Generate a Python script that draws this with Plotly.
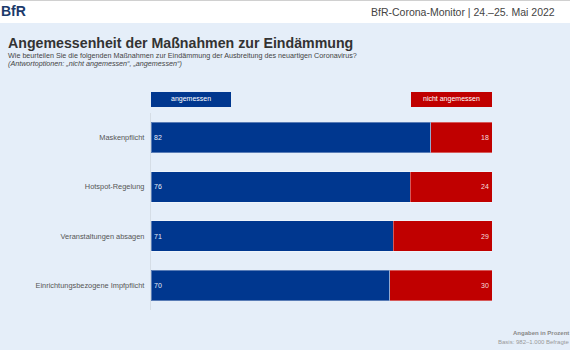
import plotly.graph_objects as go

categories = ["Maskenpflicht", "Hotspot-Regelung", "Veranstaltungen absagen", "Einrichtungsbezogene Impfpflicht"]
angemessen = [82, 76, 71, 70]
nicht_angemessen = [18, 24, 29, 30]

W, H = 570, 350
BLUE = "#00378f"
RED = "#c00000"
BG = "#e5eef9"
FONT = "Liberation Sans, Arial, sans-serif"

def py(px):
    return 1 - px / H

def px_(x):
    return x / W

fig = go.Figure()
fig.add_trace(go.Bar(
    y=categories, x=angemessen, orientation="h", name="angemessen",
    marker=dict(color=BLUE, line=dict(color="rgba(255,255,255,0.35)", width=1)),
    text=[str(v) for v in angemessen], textposition="inside", insidetextanchor="start",
    textfont=dict(color="#e8eef8", size=7, family=FONT), width=0.62, hoverinfo="skip",
))
fig.add_trace(go.Bar(
    y=categories, x=nicht_angemessen, orientation="h", name="nicht angemessen",
    marker=dict(color=RED, line=dict(color="rgba(255,255,255,0.35)", width=1)),
    text=[str(v) for v in nicht_angemessen], textposition="inside", insidetextanchor="end",
    textfont=dict(color="#f5dede", size=7, family=FONT), width=0.62, hoverinfo="skip",
))

shapes = [
    dict(type="rect", xref="paper", yref="paper", x0=0, x1=1, y0=py(23), y1=1,
         fillcolor="white", line=dict(width=0), layer="below"),
    dict(type="line", xref="paper", yref="paper", x0=0, x1=1, y0=py(0.5), y1=py(0.5),
         line=dict(color="#d0d0d0", width=1)),
    dict(type="rect", xref="paper", yref="paper", x0=px_(151), x1=px_(231), y0=py(107), y1=py(92),
         fillcolor=BLUE, line=dict(width=0)),
    dict(type="rect", xref="paper", yref="paper", x0=px_(411), x1=px_(492), y0=py(107), y1=py(92),
         fillcolor=RED, line=dict(width=0)),
]

annotations = [
    dict(text="<b>BfR</b>", x=px_(-1), y=py(11), xref="paper", yref="paper", xanchor="left", yanchor="middle",
         showarrow=False, font=dict(size=14, color="#1b3a6b", family=FONT)),
    dict(text="BfR-Corona-Monitor | 24.–25. Mai 2022", x=px_(557), y=py(12), xref="paper", yref="paper",
         xanchor="right", yanchor="middle", showarrow=False, font=dict(size=10.5, color="#444", family=FONT)),
    dict(text="<b>Angemessenheit der Maßnahmen zur Eindämmung</b>", x=px_(6), y=py(43), xref="paper", yref="paper",
         xanchor="left", yanchor="middle", showarrow=False, font=dict(size=14.2, color="#333", family=FONT)),
    dict(text="Wie beurteilen Sie die folgenden Maßnahmen zur Eindämmung der Ausbreitung des neuartigen Coronavirus?",
         x=px_(6), y=py(55.5), xref="paper", yref="paper", xanchor="left", yanchor="middle", showarrow=False,
         font=dict(size=7.2, color="#444", family=FONT)),
    dict(text="<i>(Antwortoptionen: „nicht angemessen“, „angemessen“)</i>",
         x=px_(6), y=py(64), xref="paper", yref="paper", xanchor="left", yanchor="middle", showarrow=False,
         font=dict(size=7.2, color="#444", family=FONT)),
    dict(text="angemessen", x=px_(191), y=py(99.5), xref="paper", yref="paper", xanchor="center", yanchor="middle",
         showarrow=False, font=dict(size=7, color="white", family=FONT)),
    dict(text="nicht angemessen", x=px_(451.5), y=py(99.5), xref="paper", yref="paper", xanchor="center",
         yanchor="middle", showarrow=False, font=dict(size=7, color="white", family=FONT)),
    dict(text="<b>Angaben in Prozent</b>", x=px_(571), y=py(333), xref="paper", yref="paper", xanchor="right",
         yanchor="middle", showarrow=False, font=dict(size=6, color="#888", family=FONT)),
    dict(text="Basis: 982–1.000 Befragte", x=px_(571), y=py(342), xref="paper", yref="paper", xanchor="right",
         yanchor="middle", showarrow=False, font=dict(size=6, color="#999", family=FONT)),
]

fig.update_layout(
    width=W, height=H, margin=dict(l=0, r=0, t=0, b=0),
    paper_bgcolor=BG, plot_bgcolor=BG, barmode="stack", bargap=0.38,
    showlegend=False, shapes=shapes, annotations=annotations,
    xaxis=dict(domain=[px_(151), px_(492)], range=[0, 100], showgrid=False, zeroline=False,
               showticklabels=False, ticks="", fixedrange=True),
    yaxis=dict(domain=[py(310), py(113)], autorange="reversed", showgrid=False, zeroline=False,
               showline=True, linecolor="#d5dde6", linewidth=1, ticks="", ticksuffix="  ",
               tickfont=dict(size=7.4, color="#555", family=FONT), fixedrange=True),
    uniformtext=dict(mode="show", minsize=6),
)

fig.write_html("out.html")
